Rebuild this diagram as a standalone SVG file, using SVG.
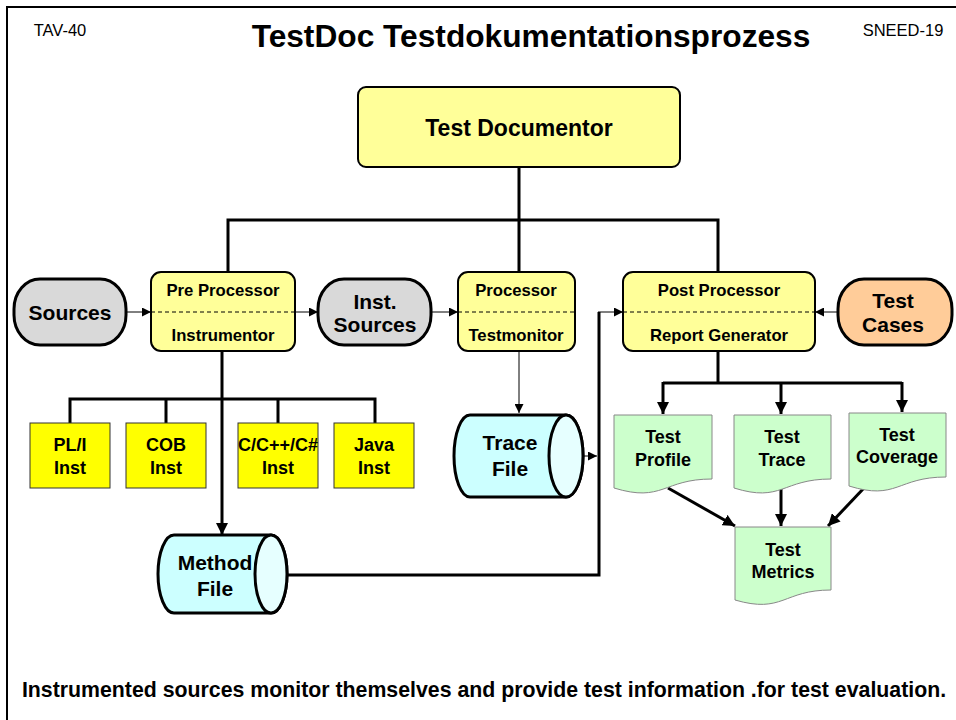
<svg xmlns="http://www.w3.org/2000/svg" width="956" height="720" viewBox="0 0 956 720">
<style>
text{font-family:"Liberation Sans",Arial,sans-serif;font-weight:bold;fill:#000;text-anchor:middle}
.reg{font-weight:normal}
.yb{fill:#ffff99;stroke:#000;stroke-width:2}
.stad{stroke:#000;stroke-width:3}
.inst{fill:#ffff00;stroke:#333;stroke-width:1}
.cyl{fill:#ccffff;stroke:#000;stroke-width:3}
.cylend{fill:#e6ffff;stroke:#000;stroke-width:3}
.doc{fill:#ccffcc;stroke:#888;stroke-width:1}
.dash{stroke:#000;stroke-width:1;stroke-dasharray:4 3;fill:none}
.thick{stroke:#000;stroke-width:3;fill:none}
.thin{stroke:#000;stroke-width:1;fill:none}
</style>
<defs>
<marker id="a" viewBox="0 0 10 10" refX="10" refY="5" markerWidth="9" markerHeight="9" markerUnits="userSpaceOnUse" orient="auto"><path d="M0,0 L10,5 L0,10 z" fill="#000"/></marker>
<marker id="A" viewBox="0 0 10 10" refX="10" refY="5" markerWidth="12" markerHeight="12" markerUnits="userSpaceOnUse" orient="auto"><path d="M0,0 L10,5 L0,10 z" fill="#000"/></marker>
</defs>
<rect x="0" y="0" width="956" height="720" fill="#fff"/>
<rect x="7" y="7" width="970" height="730" fill="none" stroke="#000" stroke-width="2"/>
<text class="reg" x="60" y="36" font-size="16.5">TAV-40</text>
<text class="reg" x="903" y="36" font-size="16.5">SNEED-19</text>
<text x="531" y="47" font-size="31.7">TestDoc Testdokumentationsprozess</text>

<g id="connectors">
<path class="thick" d="M519,167 V271 M228,271 V220 H718 V271"/>
<path class="thin" d="M127,312 H151" marker-end="url(#a)"/>
<path class="thin" d="M295,312 H318" marker-end="url(#a)"/>
<path class="thin" d="M431,312 H458" marker-end="url(#a)"/>
<path class="thin" d="M838,312 H815" marker-end="url(#a)"/>
<path class="thin" d="M519,351 V413" marker-end="url(#a)"/>
<path class="thick" d="M222,351 V535" marker-end="url(#A)"/>
<path class="thick" d="M70,423 V399 H375 V423 M166,399 V423 M278,399 V423"/>
<path class="thick" d="M271,575 H599 V312"/>
<path class="thin" d="M598,312 H623" marker-end="url(#a)"/>
<path class="thin" d="M566,456 H597" marker-end="url(#a)"/>
<path class="thick" d="M718,351 V383"/>
<path class="thick" d="M663,383 H902"/>
<path class="thick" d="M663,382 V414" marker-end="url(#A)"/>
<path class="thick" d="M781,382 V414" marker-end="url(#A)"/>
<path class="thick" d="M902,382 V412" marker-end="url(#A)"/>
<path class="thick" d="M668,488 L735,526" marker-end="url(#A)"/>
<path class="thick" d="M781,489 V526" marker-end="url(#A)"/>
<path class="thick" d="M864,488 L828,526" marker-end="url(#A)"/>
</g>

<g id="test-documentor">
<rect class="yb" x="358" y="87" width="322" height="80" rx="8"/>
<text x="519" y="136" font-size="23">Test Documentor</text>
</g>

<g id="sources">
<rect class="stad" x="14" y="279" width="112" height="66" rx="26" ry="30" fill="#d9d9d9"/>
<text x="70" y="320" font-size="21">Sources</text>
</g>

<g id="pre-processor">
<rect class="yb" x="151" y="272" width="144" height="79" rx="10"/>
<line class="dash" x1="151" y1="312" x2="295" y2="312"/>
<text x="223" y="296" font-size="16.7">Pre Processor</text>
<text x="223" y="341" font-size="16.7">Instrumentor</text>
</g>

<g id="inst-sources">
<rect class="stad" x="318" y="279" width="113" height="66" rx="26" ry="30" fill="#d9d9d9"/>
<text x="375" y="309" font-size="21">Inst.</text>
<text x="375" y="332" font-size="21">Sources</text>
</g>

<g id="processor">
<rect class="yb" x="458" y="272" width="117" height="79" rx="10"/>
<line class="dash" x1="458" y1="312" x2="575" y2="312"/>
<text x="516" y="296" font-size="16.7">Processor</text>
<text x="516" y="341" font-size="16.7">Testmonitor</text>
</g>

<g id="post-processor">
<rect class="yb" x="623" y="272" width="192" height="79" rx="10"/>
<line class="dash" x1="623" y1="312" x2="815" y2="312"/>
<text x="719" y="296" font-size="16.7">Post Processor</text>
<text x="719" y="341" font-size="16.7">Report Generator</text>
</g>

<g id="test-cases">
<rect class="stad" x="838" y="279" width="114" height="66" rx="26" ry="30" fill="#ffcc99"/>
<text x="893" y="308" font-size="21">Test</text>
<text x="893" y="332" font-size="21">Cases</text>
</g>

<g id="pli-inst">
<rect class="inst" x="30" y="423" width="80" height="65"/>
<text x="70" y="451" font-size="18">PL/I</text>
<text x="70" y="474" font-size="18">Inst</text>
</g>
<g id="cob-inst">
<rect class="inst" x="126" y="423" width="80" height="65"/>
<text x="166" y="451" font-size="18">COB</text>
<text x="166" y="474" font-size="18">Inst</text>
</g>
<g id="c-inst">
<rect class="inst" x="238" y="423" width="80" height="65"/>
<text x="278" y="451" font-size="18">C/C++/C#</text>
<text x="278" y="474" font-size="18">Inst</text>
</g>
<g id="java-inst">
<rect class="inst" x="334" y="423" width="80" height="65"/>
<text x="374" y="451" font-size="18">Java</text>
<text x="374" y="474" font-size="18">Inst</text>
</g>

<g id="trace-file">
<path class="cyl" d="M470,415 H566 A17,41 0 0 1 566,497 H470 A16,41 0 0 1 470,415 Z"/>
<ellipse class="cylend" cx="566" cy="456" rx="17" ry="41"/>
<text x="510" y="450" font-size="21">Trace</text>
<text x="510" y="476" font-size="21">File</text>
</g>

<g id="method-file">
<path class="cyl" d="M174,535 H271 A16,39 0 0 1 271,613 H174 A16,39 0 0 1 174,535 Z"/>
<ellipse class="cylend" cx="271" cy="574" rx="16" ry="39"/>
<text x="215" y="570" font-size="21">Method</text>
<text x="215" y="596" font-size="21">File</text>
</g>

<g id="test-profile">
<path class="doc" d="M614,415 H712 V479 C663,479 663,503 614,488 Z"/>
<text x="663" y="443" font-size="18">Test</text>
<text x="663" y="466" font-size="18">Profile</text>
</g>
<g id="test-trace">
<path class="doc" d="M734,415 H831 V479 C782,479 782,503 734,488 Z"/>
<text x="782" y="443" font-size="18">Test</text>
<text x="782" y="466" font-size="18">Trace</text>
</g>
<g id="test-coverage">
<path class="doc" d="M849,413 H946 V477 C897,477 897,501 849,486 Z"/>
<text x="897" y="441" font-size="18">Test</text>
<text x="897" y="463" font-size="18">Coverage</text>
</g>
<g id="test-metrics">
<path class="doc" d="M735,527 H831 V590 C783,590 783,614 735,600 Z"/>
<text x="783" y="556" font-size="18">Test</text>
<text x="783" y="578" font-size="18">Metrics</text>
</g>

<text x="484" y="697" font-size="21.3">Instrumented sources monitor themselves and provide test information .for test evaluation.</text>
</svg>
